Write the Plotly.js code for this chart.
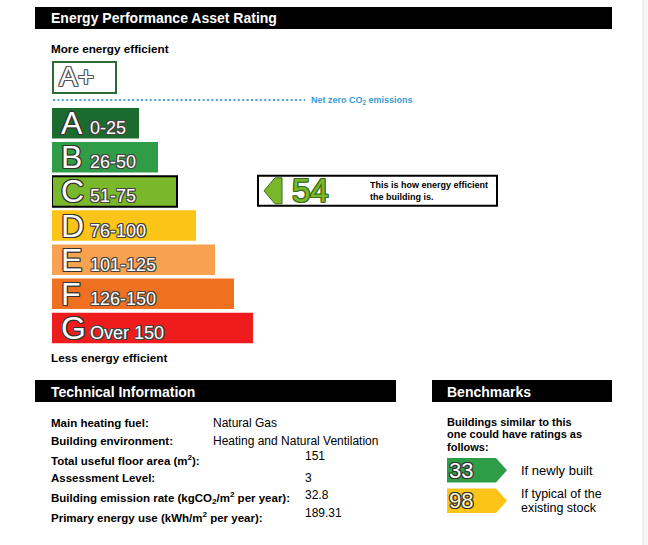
<!DOCTYPE html>
<html>
<head>
<meta charset="utf-8">
<script src="https://cdn.plot.ly/plotly-3.0.1.min.js"></script>
<style>html,body{margin:0;padding:0;background:#fff;}#chart{width:648px;height:545px;}</style>
</head>
<body>
<div id="chart"></div>
<script>
// ---------------- data ----------------
const bands = ['A', 'B', 'C', 'D', 'E', 'F', 'G'];
const bandRanges = ['0-25', '26-50', '51-75', '76-100', '101-125', '126-150', 'Over 150'];
const bandUpper = [25, 50, 75, 100, 125, 150, 175];
const bandColors = ['#1b6b2f', '#2f9d48', '#78b82a', '#fbc416', '#f6a250', '#f07021', '#ee1c1c'];
const rating = 54;
const ratingBand = 'C';
const ratingCaption = ['This is how energy efficient', 'the building is.'];
const benchmarkValues = [33, 98];
const benchmarkBands = ['B', 'D'];
const benchmarkLabels = [['If newly built'], ['If typical of the', 'existing stock']];
const benchmarkIntro = ['Buildings similar to this', 'one could have ratings as', 'follows:'];
const techLabels = ['Main heating fuel:', 'Building environment:', 'Total useful floor area (m<sup>2</sup>):',
  'Assessment Level:', 'Building emission rate (kgCO<sub>2</sub>/m<sup>2</sup> per year):',
  'Primary energy use (kWh/m<sup>2</sup> per year):'];
const techValues = ['Natural Gas', 'Heating and Natural Ventilation', '151', '3', '32.8', '189.31'];

// ---------------- layout helpers ----------------
const W = 648, H = 545;
const FONT = 'Liberation Sans, Arial, Helvetica, sans-serif';
const px = x => x / W;
const py = y => 1 - y / H;
const X0 = -89.5;            // axis start value (bars begin here)
const XSCALE = 0.76;         // px per unit
const outline = c => `1px 0 0 ${c}, -1px 0 0 ${c}, 0 1px 0 ${c}, 0 -1px 0 ${c}, 1px 1px 0 ${c}, -1px -1px 0 ${c}, 1px -1px 0 ${c}, -1px 1px 0 ${c}`;

function txt(x, y, text, size, extra) {
  const a = {
    xref: 'paper', yref: 'paper', x: px(x), y: py(y), text: text, showarrow: false,
    xanchor: 'left', yanchor: 'middle', align: 'left', borderpad: 0, borderwidth: 0,
    font: { family: FONT, size: size, color: '#000' }
  };
  return Object.assign(a, extra || {});
}

const shapes = [];
const annotations = [];

// title bars
shapes.push({ type: 'rect', xref: 'paper', yref: 'paper', x0: px(35), x1: px(612), y0: py(7), y1: py(29), fillcolor: '#000', line: { width: 0 } });
shapes.push({ type: 'rect', xref: 'paper', yref: 'paper', x0: px(35), x1: px(396), y0: py(380), y1: py(402), fillcolor: '#000', line: { width: 0 } });
shapes.push({ type: 'rect', xref: 'paper', yref: 'paper', x0: px(432), x1: px(612), y0: py(380), y1: py(402), fillcolor: '#000', line: { width: 0 } });
annotations.push(txt(50.5, 18.5, '<b>Energy Performance Asset Rating</b>', 14, { font: { family: FONT, size: 14, color: '#fff' } }));
annotations.push(txt(50.5, 391.5, '<b>Technical Information</b>', 14, { font: { family: FONT, size: 14, color: '#fff' } }));
annotations.push(txt(446.5, 391.5, '<b>Benchmarks</b>', 14, { font: { family: FONT, size: 14, color: '#fff' } }));

// right edge strip
shapes.push({ type: 'rect', xref: 'paper', yref: 'paper', x0: px(643), x1: px(648), y0: 0, y1: 1, fillcolor: '#f6f6f6', line: { width: 0 } });
shapes.push({ type: 'line', xref: 'paper', yref: 'paper', x0: px(643), x1: px(643), y0: 0, y1: 1, line: { color: '#e2e2e2', width: 1 } });

// efficiency captions
annotations.push(txt(51, 48, '<b>More energy efficient</b>', 11.7));
annotations.push(txt(51, 357.5, '<b>Less energy efficient</b>', 11.7));

// A+ box
shapes.push({ type: 'rect', xref: 'paper', yref: 'paper', x0: px(53), x1: px(116), y0: py(62), y1: py(93), fillcolor: '#fff', line: { color: '#2e6b34', width: 2 } });
annotations.push(txt(59, 77, 'A+', 28, { font: { family: FONT, size: 28, color: '#fff', shadow: outline('#555') } }));

// net zero dotted line
shapes.push({ type: 'line', xref: 'paper', yref: 'paper', x0: px(53), x1: px(305), y0: py(100), y1: py(100), line: { color: '#4aa3d6', width: 2, dash: '2px,2.4px' } });
annotations.push(txt(311, 100, '<b>Net zero CO<sub>2</sub> emissions</b>', 9, { font: { family: FONT, size: 9, color: '#3b9bd0' } }));

// band letters and ranges
bands.forEach((b, i) => {
  annotations.push({ xref: 'paper', yref: 'y', x: px(60), y: b, text: b, showarrow: false, xanchor: 'left', yanchor: 'middle', borderpad: 0,
    yshift: 0, font: { family: FONT, size: 32, color: '#fff', shadow: outline('#333') } });
  annotations.push({ xref: 'paper', yref: 'y', x: px(89), y: b, text: bandRanges[i], showarrow: false, xanchor: 'left', yanchor: 'middle', borderpad: 0,
    yshift: -5, font: { family: FONT, size: 18, color: '#fff', shadow: outline('#444') } });
});

// current rating marker box
const ri = bands.indexOf(ratingBand);
const rowTop = 104.2, slot = 34.67;
const rTop = rowTop + ri * slot + 1.8, rBot = rTop + 31;
const rMid = (rTop + rBot) / 2;
shapes.push({ type: 'rect', xref: 'paper', yref: 'paper', x0: px(258), x1: px(497), y0: py(rTop + 0.5), y1: py(rBot - 0.5), fillcolor: '#fff', line: { color: '#000', width: 2 } });
const ax = v => px(v), ay = v => py(v);
shapes.push({ type: 'path', xref: 'paper', yref: 'paper',
  path: `M${ax(264)},${ay(rMid)} L${ax(275)},${ay(rTop + 2.5)} L${ax(282)},${ay(rTop + 2.5)} L${ax(282)},${ay(rBot - 2.5)} L${ax(275)},${ay(rBot - 2.5)} Z`,
  fillcolor: bandColors[ri], line: { color: '#3a6b1f', width: 1 } });
annotations.push(txt(292, rMid, String(rating), 33, { font: { family: FONT, size: 33, color: bandColors[ri], shadow: outline('#3a6b1f') } }));
annotations.push(txt(370, rMid - 5.5, '<b>' + ratingCaption[0] + '</b>', 9));
annotations.push(txt(370, rMid + 6.5, '<b>' + ratingCaption[1] + '</b>', 9));

// technical info
const techY = [423, 441, 459.5, 478, 497.5, 517];
const techValY = [423, 441, 456, 478, 494.5, 513];
techLabels.forEach((l, i) => {
  annotations.push(txt(50.5, techY[i], '<b>' + l + '</b>', 11.5));
  const isText = isNaN(Number(techValues[i]));
  annotations.push(txt(isText ? 213 : 305, techValY[i], techValues[i], 12));
});

// benchmarks
const introY = [421.5, 434, 446.5];
benchmarkIntro.forEach((l, i) => annotations.push(txt(447, introY[i], '<b>' + l + '</b>', 11)));
const benchTop = [458, 488.5];
benchmarkValues.forEach((v, i) => {
  const t = benchTop[i], b = t + 24.5, m = (t + b) / 2;
  const c = bandColors[bands.indexOf(benchmarkBands[i])];
  shapes.push({ type: 'path', xref: 'paper', yref: 'paper',
    path: `M${ax(447)},${ay(t)} L${ax(496)},${ay(t)} L${ax(507)},${ay(m)} L${ax(496)},${ay(b)} L${ax(447)},${ay(b)} Z`,
    fillcolor: c, line: { width: 0 } });
  annotations.push(txt(449, m, String(v), 22, { font: { family: FONT, size: 22, color: i === 0 ? '#fff' : '#fff6c8', shadow: outline('#333') } }));
  const labs = benchmarkLabels[i];
  if (labs.length === 1) annotations.push(txt(521, m, labs[0], 13));
  else { annotations.push(txt(521, m - 6.5, labs[0], 12.5)); annotations.push(txt(521, m + 7, labs[1], 12.5)); }
});

// ---------------- bar trace ----------------
const trace = {
  type: 'bar', orientation: 'h',
  y: bands,
  x: bandUpper.map(v => v - X0),
  base: X0,
  marker: { color: bandColors, line: { color: '#000', width: bands.map(b => b === ratingBand ? 2 : 0) } },
  hoverinfo: 'skip', showlegend: false
};

const layout = {
  width: W, height: H,
  margin: { l: 0, r: 0, t: 0, b: 0 },
  paper_bgcolor: '#fff', plot_bgcolor: 'rgba(0,0,0,0)',
  bargap: 0.106,
  xaxis: { domain: [px(52), 1], range: [X0, X0 + (W - 52) / XSCALE], visible: false, fixedrange: true },
  yaxis: { domain: [py(rowTop + 7 * slot), py(rowTop)], type: 'category', categoryarray: bands, categoryorder: 'array', autorange: 'reversed', visible: false, fixedrange: true },
  shapes: shapes,
  annotations: annotations,
  font: { family: FONT }
};

Plotly.newPlot('chart', [trace], layout, { staticPlot: true, displayModeBar: false });
</script>
</body>
</html>
